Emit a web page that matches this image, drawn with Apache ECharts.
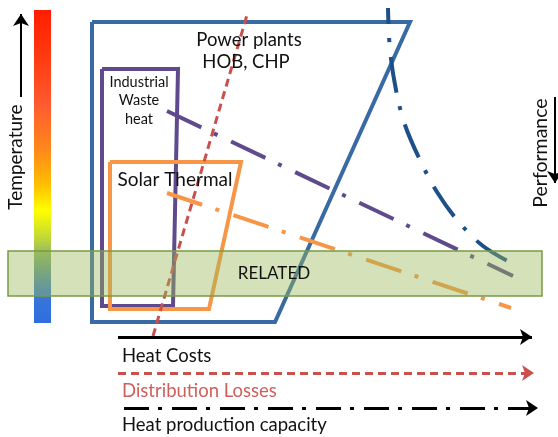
<!DOCTYPE html>
<html><head><meta charset="utf-8">
<script src="https://cdn.jsdelivr.net/npm/echarts@6/dist/echarts.min.js"></script>
<style>html,body{margin:0;padding:0;background:#fff}#c{width:558px;height:437px}</style>
</head><body><div id="c"></div>
<script>
// Diagram vertices, in a 558 x 437 value space (y grows downwards)
const colorBar = [[34, 10, 51, 323]];
const powerPlants = [[92,22],[410,22],[275,322],[92,322],[92,22]];
const industrialWaste = [[102,69],[178,69],[173,306],[102,306],[102,69]];
const solarThermal = [[110,162],[241,162],[209,309],[110,309],[110,162]];
const relatedBand = [[8,251,542,296]];
const powerCurve = [[388,8],[390,50],[396,90],[405,125],[420,160],[437,192],[458,221],[483,246],[515,265]];
const wasteTrend = [[167,111],[513,276]];
const solarTrend = [[167,193],[511,308]];
const distributionDiag = [[153,336],[247,15]];
const heatCostArrow = [[118,337],[532,337]];
const lossArrow = [[118,373],[534,373]];
const capacityArrow = [[124,408],[538,408]];
const temperatureArrow = [[21,97],[21,14]];
const performanceArrow = [[555,97],[555,183]];
const labels = ['Power plants','HOB, CHP','Industrial','Waste','heat','Solar Thermal','RELATED','Heat Costs','Distribution Losses','Heat production capacity','Temperature','Performance'];
const labelPos = [[249,40],[246,62],[139,82],[139,100],[139,119],[175,180],[274,274],[122,356],[122,391],[122,425],[16,157],[541,153]];

const FF = 'Lato, "Open Sans", sans-serif';
const textStyles = [
  {font:'18.5px '+FF, color:'#111'},
  {font:'18.5px '+FF, color:'#111'},
  {font:'14.5px '+FF, color:'#111'},
  {font:'14.5px '+FF, color:'#111'},
  {font:'14.5px '+FF, color:'#111'},
  {font:'19px '+FF, color:'#111'},
  {font:'17px '+FF, color:'#111'},
  {font:'18.5px '+FF, color:'#111', align:'left'},
  {font:'18.5px '+FF, color:'#cf5f5c', align:'left'},
  {font:'18.5px '+FF, color:'#111', align:'left'},
  {font:'19px '+FF, color:'#111', rot:Math.PI/2},
  {font:'19.5px '+FF, color:'#111', rot:Math.PI/2}
];

const chart = echarts.init(document.getElementById('c'), null, {renderer:'canvas'});

function rectItem(fillFn, extra) {
  return function (params, api) {
    const p0 = api.coord([api.value(0), api.value(1)]);
    const p1 = api.coord([api.value(2), api.value(3)]);
    return {
      type:'rect',
      shape:{x:Math.min(p0[0],p1[0]), y:Math.min(p0[1],p1[1]), width:Math.abs(p1[0]-p0[0]), height:Math.abs(p1[1]-p0[1])},
      style:Object.assign({fill:fillFn()}, extra || {})
    };
  };
}

function shape(data, color, width, z, dash, smooth, offset) {
  return {
    type:'line', data:data, symbol:'none', z:z, clip:false, smooth:smooth||false,
    lineStyle:{color:color, width:width, type:dash||'solid', dashOffset:offset||0, join:'miter', cap:'butt'},
    silent:true
  };
}

function arrow(coords, color, width, dash, z) {
  return {
    type:'lines', coordinateSystem:'cartesian2d', z:z||4, silent:true,
    symbol:['none','arrow'], symbolSize:[10,12],
    data:[{coords:coords}],
    lineStyle:{color:color, width:width, type:dash||'solid', opacity:1, curveness:0}
  };
}

chart.setOption({
  animation:false,
  grid:{left:0, right:0, top:0, bottom:0},
  xAxis:{type:'value', min:0, max:558, show:false},
  yAxis:{type:'value', min:0, max:437, inverse:true, show:false},
  series:[
    {type:'custom', z:1, data:colorBar, silent:true,
     renderItem:rectItem(function(){return new echarts.graphic.LinearGradient(0,0,0,1,[
       {offset:0, color:'#ff1e00'},{offset:0.15, color:'#ff3a10'},{offset:0.3, color:'#ff5a30'},
       {offset:0.45, color:'#ff8a1a'},{offset:0.56, color:'#ffc000'},{offset:0.64, color:'#ffff00'},
       {offset:0.72, color:'#c8dc30'},{offset:0.82, color:'#6fa088'},{offset:0.9, color:'#3a78d8'},{offset:1, color:'#2f6de0'}]);})},
    shape(powerPlants, '#386aa4', 4, 2),
    shape(industrialWaste, '#5e4a8c', 4, 2),
    shape(solarThermal, '#f79646', 4, 2),
    shape(distributionDiag, '#c9504d', 3, 3, [8,5]),
    shape(powerCurve, '#1d4f88', 4, 3, [36,14,4,15], 0.35, 20),
    shape(wasteTrend, '#5e4a8c', 4, 3, [38,14,4,15]),
    shape(solarTrend, '#f79646', 4, 3, [37,14,4,15]),
    arrow(heatCostArrow, '#000', 3),
    arrow(lossArrow, '#c9504d', 3, [8,5]),
    arrow(capacityArrow, '#000', 3, [25,9,4,10]),
    arrow(temperatureArrow, '#000', 2),
    arrow(performanceArrow, '#000', 2),
    {type:'custom', z:5, data:relatedBand, silent:true,
     renderItem:rectItem(function(){return 'rgba(155,187,89,0.42)';}, {stroke:'#789a45', lineWidth:1.5})},
    {type:'custom', z:6, silent:true,
     data:labelPos.map(function(p,i){return [p[0],p[1],i];}),
     renderItem:function(params, api){
       const i = api.value(2);
       const p = api.coord([api.value(0), api.value(1)]);
       const s = textStyles[i];
       return {type:'text', x:p[0], y:p[1], rotation:s.rot||0,
         style:{text:labels[i], font:s.font, fill:s.color, align:s.align||'center', verticalAlign:'middle'}};
     }}
  ]
});
</script></body></html>
